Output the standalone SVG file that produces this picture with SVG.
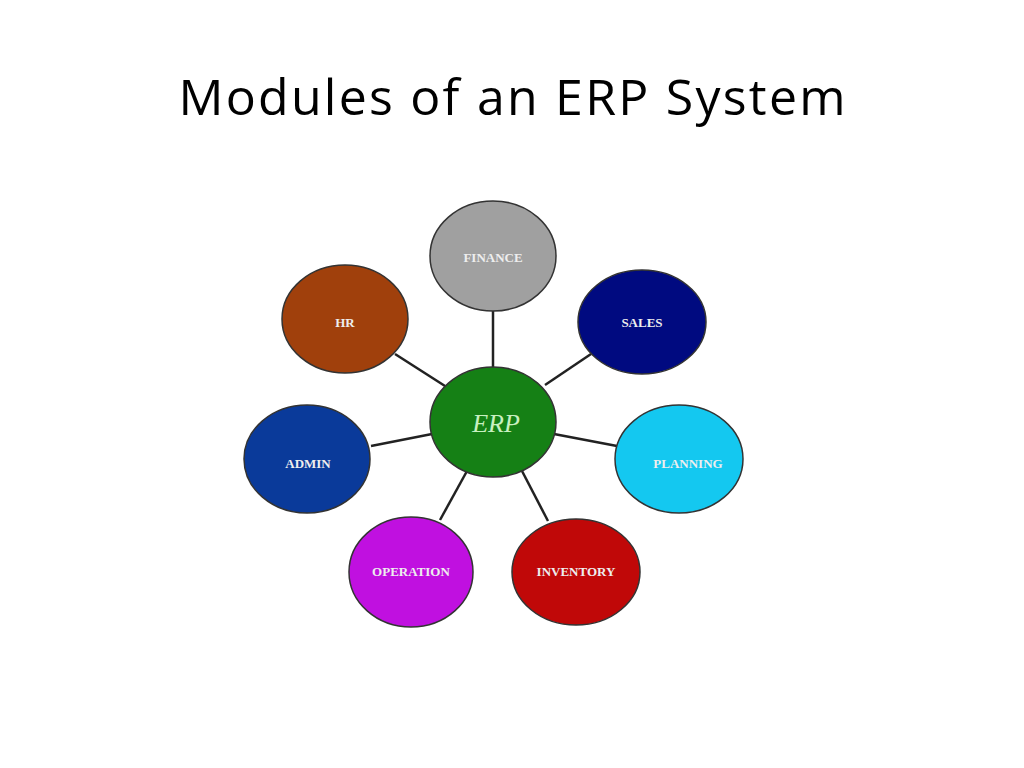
<svg xmlns="http://www.w3.org/2000/svg" width="1024" height="768" viewBox="0 0 1024 768">
<style>
.n{stroke:#333;stroke-width:1.5}
.t{font-family:"Liberation Serif",serif;font-weight:bold;font-size:13px;fill:#eee;text-anchor:middle}
.c line{stroke:#222;stroke-width:2.5}
</style>
<rect width="1024" height="768" fill="#fff"/>
<text x="512" y="115" font-family="'Open Sans','Liberation Sans',sans-serif" font-size="50" text-anchor="middle" textLength="667" fill="#000">Modules of an ERP System</text>
<g class="c">
<line x1="493" y1="310" x2="493" y2="367"/>
<line x1="395" y1="354" x2="445" y2="386"/>
<line x1="591" y1="354" x2="545" y2="385"/>
<line x1="371" y1="446" x2="432" y2="434"/>
<line x1="554" y1="434" x2="617" y2="446"/>
<line x1="440" y1="520" x2="467" y2="471"/>
<line x1="548" y1="521" x2="522" y2="471"/>
</g>
<g id="finance"><ellipse class="n" cx="493" cy="256" rx="63" ry="55" fill="#a0a0a0"/><text class="t" x="493" y="262">FINANCE</text></g>
<g id="hr"><ellipse class="n" cx="345" cy="319" rx="63" ry="54" fill="#a0400c"/><text class="t" x="345" y="327">HR</text></g>
<g id="sales"><ellipse class="n" cx="642" cy="322" rx="64" ry="52" fill="#000a80"/><text class="t" x="642" y="327">SALES</text></g>
<g id="erp"><ellipse class="n" cx="493" cy="422" rx="63" ry="55" fill="#158015"/><text x="496" y="432" font-family="'Liberation Serif',serif" font-style="italic" font-size="26" fill="#c8f0c0" text-anchor="middle">ERP</text></g>
<g id="admin"><ellipse class="n" cx="307" cy="459" rx="63" ry="54" fill="#0a3a9a"/><text class="t" x="308" y="468">ADMIN</text></g>
<g id="planning"><ellipse class="n" cx="679" cy="459" rx="64" ry="54" fill="#14c8f0"/><text class="t" x="688" y="468">PLANNING</text></g>
<g id="operation"><ellipse class="n" cx="411" cy="572" rx="62" ry="55" fill="#c010e0"/><text class="t" x="411" y="576">OPERATION</text></g>
<g id="inventory"><ellipse class="n" cx="576" cy="572" rx="64" ry="53" fill="#c00808"/><text class="t" x="576" y="576">INVENTORY</text></g>
</svg>
